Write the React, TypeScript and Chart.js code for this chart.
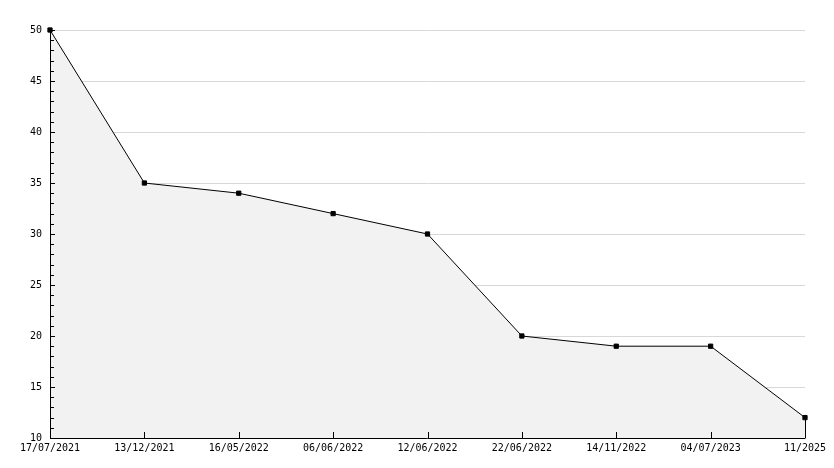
import React, { useEffect, useRef } from "react";
import { Chart, registerables } from "chart.js";

Chart.register(...registerables);

const categories = [
  "17/07/2021",
  "13/12/2021",
  "16/05/2022",
  "06/06/2022",
  "12/06/2022",
  "22/06/2022",
  "14/11/2022",
  "04/07/2023",
  "11/2025",
];
const values = [50, 35, 34, 32, 30, 20, 19, 19, 12];
const yTicks = [10, 15, 20, 25, 30, 35, 40, 45, 50];

const FONT = "'DejaVu Sans Mono', monospace";

const axisTicksPlugin = {
  id: "axisTicks",
  beforeDatasetsDraw(chart: any) {
    const { ctx, chartArea, scales } = chart;
    const x = scales.x;
    const y = scales.y;
    ctx.save();
    ctx.strokeStyle = "#000";
    ctx.lineWidth = 1;
    ctx.beginPath();
    const li = values.length - 1;
    const lx = Math.round(x.getPixelForValue(li)) + 0.5;
    ctx.moveTo(lx, y.getPixelForValue(values[li]));
    ctx.lineTo(lx, chartArea.bottom);
    ctx.stroke();
    ctx.restore();
  },
  afterDatasetsDraw(chart: any) {
    const { ctx, chartArea, scales } = chart;
    const x = scales.x;
    const y = scales.y;
    ctx.save();
    ctx.strokeStyle = "#000";
    ctx.lineWidth = 1;
    ctx.beginPath();
    ctx.moveTo(Math.round(chartArea.left) + 0.5, chartArea.top);
    ctx.lineTo(Math.round(chartArea.left) + 0.5, chartArea.bottom + 0.5);
    ctx.moveTo(chartArea.left, Math.round(chartArea.bottom) + 0.5);
    ctx.lineTo(chartArea.right + 0.5, Math.round(chartArea.bottom) + 0.5);
    for (let v = y.min; v <= y.max; v += 1) {
      const py = Math.round(y.getPixelForValue(v)) + 0.5;
      const major = v % 5 === 0;
      ctx.moveTo(chartArea.left, py);
      ctx.lineTo(chartArea.left + (major ? 5 : 4), py);
    }
    categories.forEach((_, i) => {
      const px = Math.round(x.getPixelForValue(i)) + 0.5;
      ctx.moveTo(px, chartArea.bottom);
      ctx.lineTo(px, chartArea.bottom - 6);
    });
    ctx.stroke();
    ctx.restore();
  },
};

export default function App() {
  const ref = useRef<HTMLCanvasElement>(null);
  useEffect(() => {
    if (!ref.current) return;
    const chart = new Chart(ref.current, {
      type: "line",
      data: {
        labels: categories,
        datasets: [
          {
            data: values,
            borderColor: "#000",
            borderWidth: 1,
            backgroundColor: "#f2f2f2",
            fill: "origin",
            tension: 0,
            clip: false,
            pointRadius: 3,
            pointHoverRadius: 3,
            pointStyle: "rect",
            pointBackgroundColor: "#000",
            pointBorderColor: "#000",
            pointBorderWidth: 1,
          },
        ],
      },
      options: {
        animation: false,
        responsive: false,
        maintainAspectRatio: false,
        layout: { padding: { top: 30, right: 29, left: 0, bottom: 0 } },
        plugins: { legend: { display: false }, tooltip: { enabled: false } },
        scales: {
          x: {
            type: "category",
            offset: false,
            grid: { display: false, drawTicks: false },
            border: { display: false },
            ticks: {
              autoSkip: false,
              maxRotation: 0,
              minRotation: 0,
              color: "#000",
              padding: 4,
              font: { family: FONT, size: 10 },
            },
            afterFit(scale: any) {
              scale.height = 30;
            },
          },
          y: {
            min: 10,
            max: 50,
            afterBuildTicks(scale: any) {
              scale.ticks = yTicks.map((v) => ({ value: v }));
            },
            grid: {
              color: "#d8d8d8",
              drawTicks: false,
              lineWidth: (c: any) => (c.tick && c.tick.value === 10 ? 0 : 1),
            },
            border: { display: false },
            ticks: {
              color: "#000",
              padding: 8,
              font: { family: FONT, size: 10 },
            },
            afterFit(scale: any) {
              scale.width = 50;
            },
          },
        },
      },
      plugins: [axisTicksPlugin],
    });
    return () => chart.destroy();
  }, []);
  return (
    <div style={{ position: "fixed", left: 0, top: 0, width: 834, height: 468, background: "#fff" }}>
      <canvas ref={ref} width={834} height={468} style={{ display: "block" }} />
    </div>
  );
}
